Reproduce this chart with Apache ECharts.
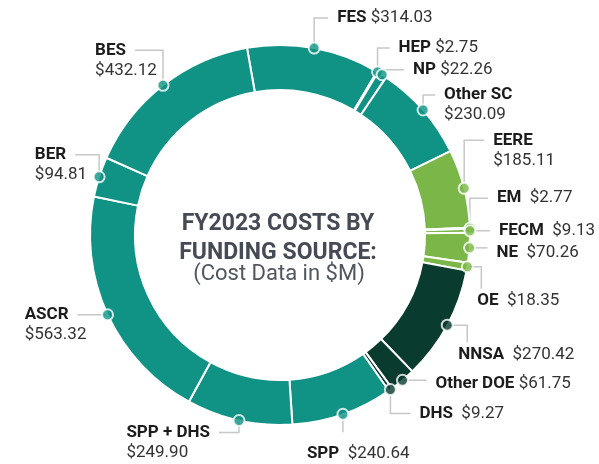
<!DOCTYPE html>
<html><head><meta charset="utf-8">
<script src="https://cdn.jsdelivr.net/npm/echarts@6/dist/echarts.min.js"></script>
<style>html,body{margin:0;padding:0;background:#fff}#c{width:599px;height:464px}</style>
</head><body><div id="c"></div>
<script>
// ---- data ----
const names = ['FES','HEP','NP','Other SC','EERE','EM','FECM','NE','OE','NNSA','Other DOE','DHS','SPP','SPP + DHS','ASCR','BER','BES'];
const values = [314.03,2.75,22.26,230.09,185.11,2.77,9.13,70.26,18.35,270.42,61.75,9.27,240.64,249.90,563.32,94.81,432.12];
const groups = ['sc','sc','sc','sc','green','green','green','green','green','dark','dark','dark','sc','sc','sc','sc','sc'];
const titleLines = ['FY2023 COSTS BY','FUNDING SOURCE:'];
const subtitle = '(Cost Data in $M)';

// ---- styles / layout ----
const groupColor = {sc:'#109384', green:'#7ab648', dark:'#0a3b2f'};
const CX = 280, CY = 235, R0 = 145, R1 = 190, START = 100;
const total = values.reduce((a,b)=>a+b,0);
const mids = [];
let acc = 0;
values.forEach(v=>{ mids.push(acc + v/2); acc += v; });

// leader-line route (relative segments) and label placement per category
const layout = {
  'FES':       {path:[[0,-30],[14,0]], side:'right', sep:' '},
  'HEP':       {path:[[0,-24],[12,0]], side:'right', sep:' '},
  'NP':        {path:[[0,-5],[22,0]],  side:'right', sep:' '},
  'Other SC':  {path:[[0,-15],[12,0]], side:'right', two:true},
  'EERE':      {path:[[0,-48],[20,0]], side:'right', two:true},
  'EM':        {path:[[0,-30],[18,0]], side:'right', sep:'  '},
  'FECM':      {path:[[20,0]],         side:'right', sep:'  '},
  'NE':        {path:[[18,0]],         side:'right', sep:'  ', dy:5},
  'OE':        {path:[[14,0],[0,22]],  side:'below', sep:'  ', dx:-4, dy:2},
  'NNSA':      {path:[[20,0],[0,17]],  side:'below', sep:'  ', dx:-9, dy:3},
  'Other DOE': {path:[[24,0]],         side:'right', sep:' ', dy:3},
  'DHS':       {path:[[0,24],[20,0]],  side:'right', sep:'  '},
  'SPP':       {path:[[0,18]],         side:'below', sep:'  ', dx:-36, dy:11},
  'SPP + DHS': {path:[[0,12],[-20,0]], side:'left', two:true},
  'ASCR':      {path:[[-30,0]],        side:'left', two:true},
  'BER':       {path:[[0,-22],[-24,0]],side:'left', two:true},
  'BES':       {path:[[0,-35],[-28,0]],side:'left', two:true}
};
const FONT = 'Roboto';
const ctx = document.createElement('canvas').getContext('2d');
function textW(t){ ctx.font = 'bold 17px ' + FONT; return ctx.measureText(t).width; }
const money = v => '$' + v.toFixed(2);

const chart = echarts.init(document.getElementById('c'), null, {renderer:'canvas'});
chart.setOption({
  animation:false,
  backgroundColor:'#fff',
  polar:{center:[CX,CY], radius:[0,R1]},
  angleAxis:{type:'value', min:0, max:total, startAngle:START, clockwise:true, show:false},
  radiusAxis:{type:'value', min:0, max:1, show:false},
  graphic:[
    {type:'text', x:278, y:224, style:{text:titleLines[0], font:'bold 23px '+FONT, fill:'#454a54', align:'center', verticalAlign:'middle'}},
    {type:'text', x:278, y:253, style:{text:titleLines[1], font:'bold 23px '+FONT, fill:'#454a54', align:'center', verticalAlign:'middle'}},
    {type:'text', x:279, y:274, style:{text:subtitle, font:'22px '+FONT, fill:'#50565e', align:'center', verticalAlign:'middle'}}
  ],
  series:[
    {
      type:'pie',
      center:[CX,CY], radius:[R0,R1],
      startAngle:START, clockwise:true,
      avoidLabelOverlap:false,
      silent:true,
      itemStyle:{borderColor:'#fff', borderWidth:2},
      label:{
        show:true, position:'outside',
        formatter: p => {
          const L = layout[p.name];
          return L.two ? '{n|'+p.name+'}\n{v|'+money(p.value)+'}'
                       : '{n|'+p.name+'}{v|'+L.sep+money(p.value)+'}';
        },
        rich:{
          n:{fontFamily:FONT, fontWeight:'bold', fontSize:17, color:'#1c1c1c', lineHeight:20},
          v:{fontFamily:FONT, fontSize:17, color:'#333333', lineHeight:20}
        }
      },
      labelLine:{show:true, length:10, length2:10, lineStyle:{color:'#c8c8c8', width:1.5}},
      labelLayout: p => {
        const name = names[p.dataIndex];
        const L = layout[name];
        let sx, sy;
        if (p.labelLinePoints && p.labelLinePoints.length) {
          sx = p.labelLinePoints[0][0]; sy = p.labelLinePoints[0][1];
        } else {
          const a = (START - mids[p.dataIndex]/total*360) * Math.PI/180;
          sx = CX + R1*Math.cos(a); sy = CY - R1*Math.sin(a);
        }
        let x = sx, y = sy;
        const pts = [[x,y]];
        L.path.forEach(s=>{ x += s[0]; y += s[1]; pts.push([x,y]); });
        const dx = L.dx || 0, dy = L.dy || 0;
        let lx, ly, va;
        if (L.side === 'right') {
          lx = x + 9 + dx;
          if (L.two) { ly = y - 10 + dy; va = 'top'; } else { ly = y + dy; va = 'middle'; }
        } else if (L.side === 'left') {
          lx = x - 9 - textW(name) + dx;
          if (L.two) { ly = y - 10 + dy; va = 'top'; } else { ly = y + dy; va = 'middle'; }
        } else {
          lx = x + dx; ly = y + dy; va = 'top';
        }
        return {x:lx, y:ly, align:'left', verticalAlign:va, labelLinePoints:pts};
      },
      data: names.map((n,i)=>({name:n, value:values[i], itemStyle:{color:groupColor[groups[i]]}}))
    },
    {
      type:'scatter',
      coordinateSystem:'polar',
      silent:true,
      symbol:'circle',
      symbolSize:11,
      z:5,
      data: names.map((n,i)=>({value:[1, mids[i]], itemStyle:{color:groupColor[groups[i]], borderColor:'#fff', borderWidth:2}}))
    }
  ]
});
</script>
</body></html>
